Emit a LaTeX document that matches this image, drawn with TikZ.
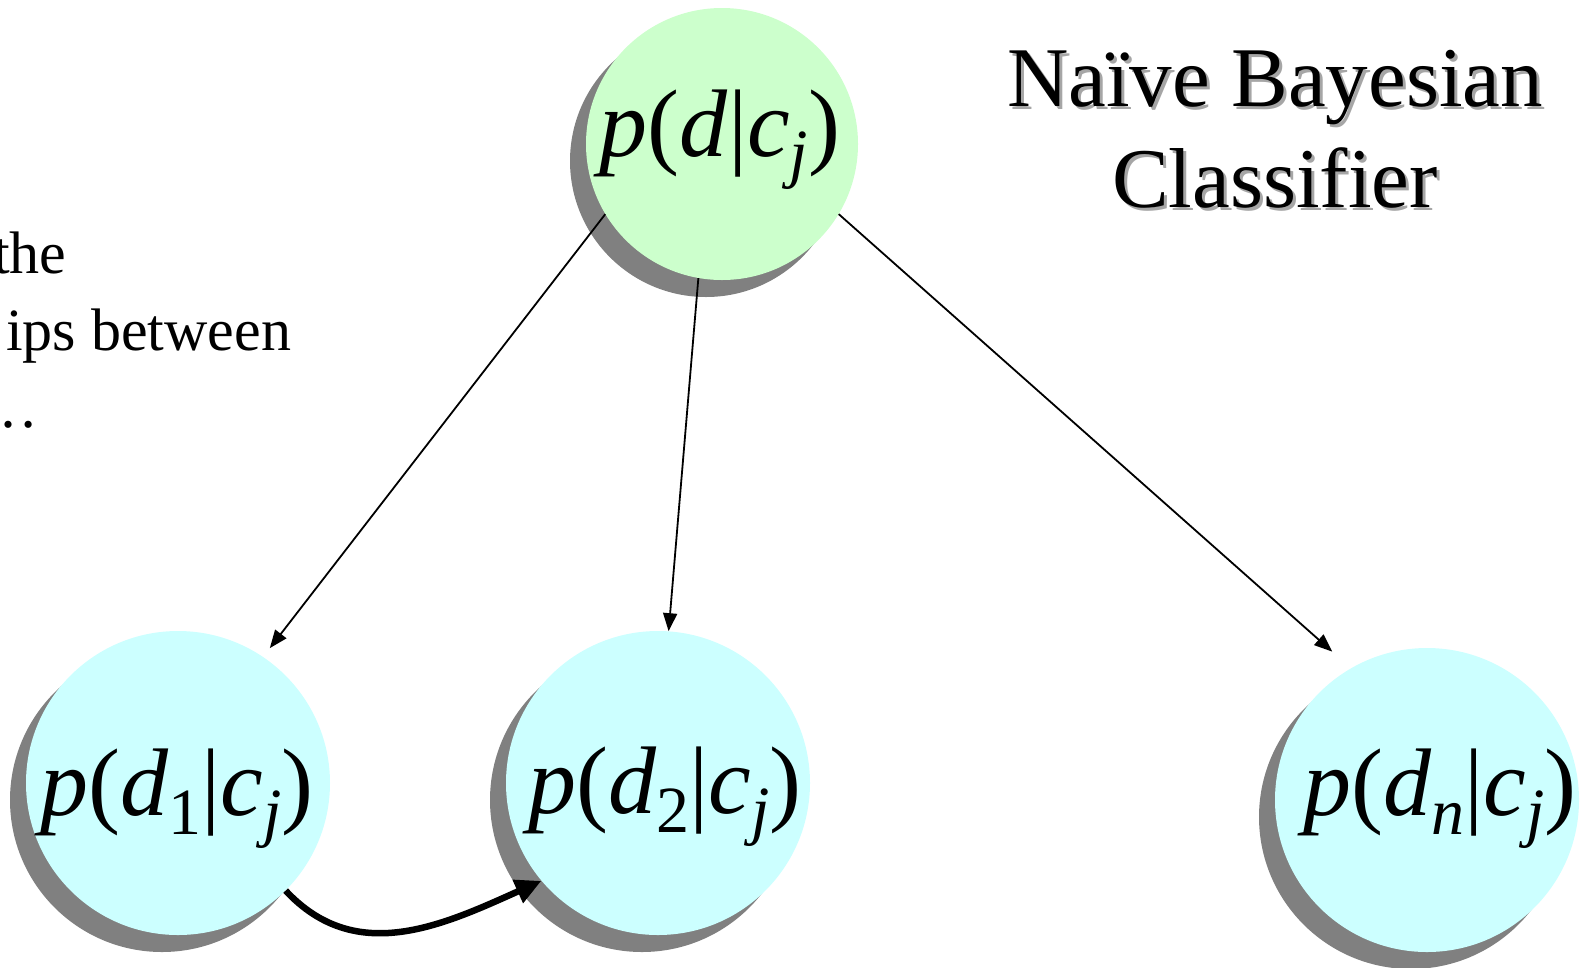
\documentclass[tikz,border=0pt]{standalone}
\usepackage{fontspec}
\setmainfont{Liberation Serif}
\usetikzlibrary{arrows.meta,shadows}
\definecolor{rootgreen}{RGB}{204,255,204}
\definecolor{leafcyan}{RGB}{204,255,255}
\newcommand{\lowsub}[1]{\raisebox{-19pt}{\fontsize{66}{66}\selectfont #1}}
\newcommand{\condp}[1]{\textit{p}(\textit{d}#1|\textit{c}\lowsub{\textit{j}})}
\begin{document}
\begin{tikzpicture}[x=1pt, y=-1pt,
  ball/.style={circle, inner sep=0pt, minimum size=304pt, fill=leafcyan,
    drop shadow={shadow xshift=-16pt, shadow yshift=-17pt, fill=black!50, opacity=1}},
  rootball/.style={ball, minimum size=272pt, fill=rootgreen},
  eqn/.style={anchor=base, inner sep=0pt, font=\fontsize{96}{96}\selectfont},
  side/.style={anchor=base west, inner sep=0pt, font=\fontsize{60}{72}\selectfont},
  title/.style={anchor=base, align=center, inner sep=0pt, font=\fontsize{85}{101}\selectfont},
  arr/.style={-{Triangle[length=18pt,width=14pt]}, line width=1.8pt},
  bold/.style={-{Triangle[length=26pt,width=24pt]}, line width=6.5pt}
]
\useasboundingbox (0,0) rectangle (1584,967);
\node[side] (s1) at (-7,273) {the};
\node[side] (s2) at (6,350) {ips between};
\node[side] (s3) at (-22,427) {…};
\node[title, text=black!35] (title-shd) at (1278,210) {Naïve Bayesian\\Classifier};
\node[title] (title) at (1275,207) {Naïve Bayesian\\Classifier};
\node[rootball] (top) at (722,144) {};
\node[ball] (d1) at (178,783) {};
\node[ball] (d2) at (658,783) {};
\node[ball] (dn) at (1427,800) {};
\node[eqn] (top-t) at (720,156) {\condp{}};
\node[eqn] (d1-t) at (177,815) {\condp{\lowsub{1}}};
\node[eqn] (d2-t) at (665,813) {\condp{\lowsub{2}}};
\node[eqn] (dn-t) at (1440,815) {\condp{\lowsub{\textit{n}}}};
\draw[arr, shorten >=11pt] (top.211.5) -- (d1.56.7);
\draw[arr] (top.260) -- (d2.86.6);
\draw[arr, shorten >=25pt] (top.329.6) -- (dn.120);
\draw[bold] (d1.315) .. controls +(70,75) and +(-100,45) .. (d2.220);
\end{tikzpicture}
\end{document}
